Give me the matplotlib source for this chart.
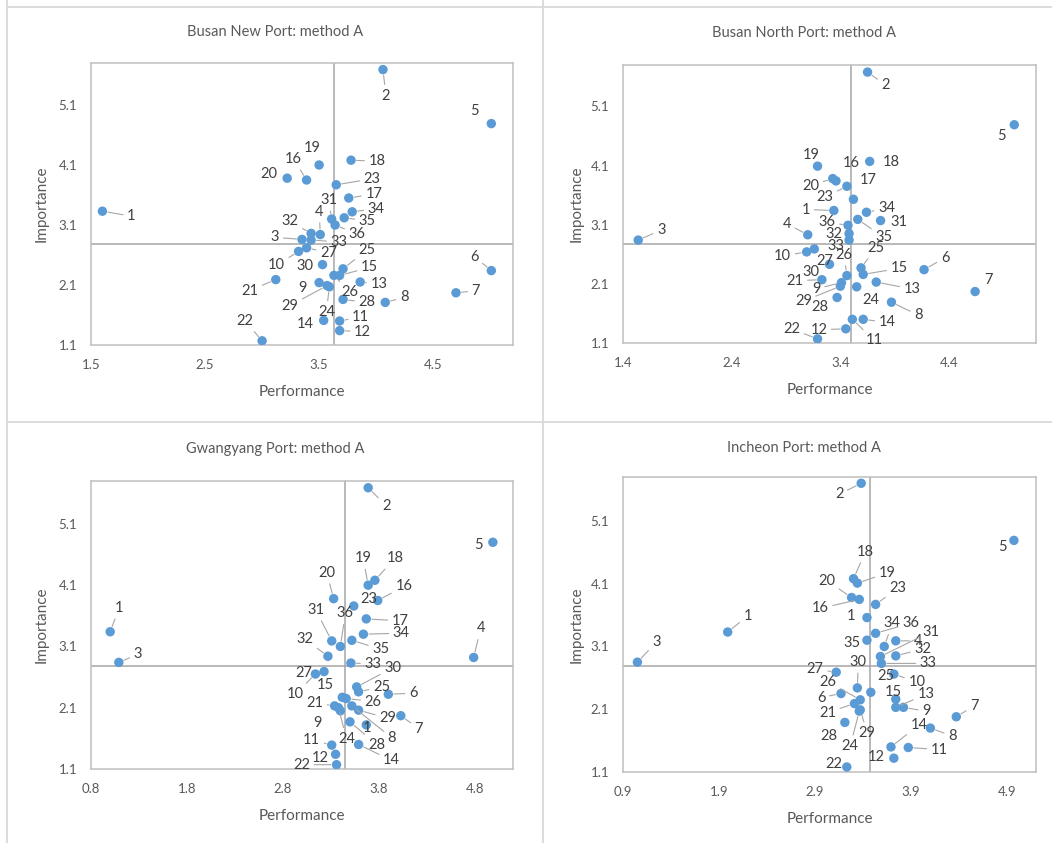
import matplotlib
matplotlib.use('Agg')
import matplotlib.pyplot as plt
from matplotlib.lines import Line2D

plt.rcParams['font.family'] = ['Lato', 'DejaVu Sans']

W, H = 1052, 843

# item numbers 1..36 (data labels)
items = [str(i) for i in range(1, 37)]

# Busan New Port
new_perf = [1.60, 4.06, 3.35, 3.51, 5.01, 5.01, 4.70, 4.08, 3.50, 3.32, 3.68, 3.68,
            3.86, 3.54, 3.68, 3.39, 3.76, 3.78, 3.50, 3.22, 3.12, 3.00, 3.65, 3.59,
            3.71, 3.63, 3.39, 3.71, 3.57, 3.53, 3.61, 3.43, 3.43, 3.79, 3.72, 3.64]
new_imp = [3.33, 5.69, 2.86, 2.94, 4.79, 2.34, 1.97, 1.81, 2.14, 2.66, 1.50, 1.34,
           2.15, 1.51, 2.26, 3.85, 3.55, 4.18, 4.10, 3.88, 2.19, 1.17, 3.77, 2.07,
           2.37, 2.26, 2.72, 1.86, 2.09, 2.44, 3.20, 2.96, 2.85, 3.32, 3.22, 3.10]
new_mean = (3.63, 2.79)

# Busan North Port
north_perf = [3.34, 3.65, 1.54, 3.10, 5.00, 4.17, 4.64, 3.87, 3.41, 3.09, 3.51, 3.45,
              3.73, 3.61, 3.61, 3.36, 3.52, 3.67, 3.19, 3.33, 3.23, 3.19, 3.46, 3.55,
              3.59, 3.46, 3.30, 3.37, 3.40, 3.16, 3.77, 3.48, 3.48, 3.64, 3.56, 3.47]
north_imp = [3.34, 5.68, 2.84, 2.93, 4.79, 2.34, 1.97, 1.79, 2.12, 2.64, 1.50, 1.34,
             2.13, 1.50, 2.26, 3.84, 3.53, 4.17, 4.09, 3.88, 2.17, 1.17, 3.75, 2.05,
             2.37, 2.24, 2.43, 1.87, 2.06, 2.69, 3.17, 2.95, 2.84, 3.31, 3.19, 3.09]
north_mean = (3.50, 2.77)

# Gwangyang Port
gy_perf = [1.00, 3.69, 1.09, 4.79, 4.99, 3.90, 4.03, 3.52, 3.40, 3.14, 3.31, 3.35,
           3.67, 3.59, 3.42, 3.79, 3.67, 3.76, 3.69, 3.33, 3.34, 3.36, 3.54, 3.38,
           3.59, 3.46, 3.23, 3.50, 3.59, 3.57, 3.31, 3.27, 3.51, 3.64, 3.52, 3.40]
gy_imp = [3.34, 5.69, 2.84, 2.92, 4.80, 2.32, 1.97, 2.13, 2.05, 2.65, 1.49, 1.34,
          1.82, 1.50, 2.27, 3.85, 3.55, 4.18, 4.10, 3.88, 2.13, 1.17, 3.76, 2.10,
          2.36, 2.25, 2.69, 1.87, 2.06, 2.44, 3.19, 2.94, 2.83, 3.30, 3.20, 3.10]
gy_mean = (3.45, 2.78)

# Incheon Port
ic_perf = [1.99, 3.38, 1.05, 3.74, 4.97, 3.17, 4.37, 4.10, 3.82, 3.72, 3.87, 3.72,
           3.74, 3.69, 3.74, 3.36, 3.44, 3.30, 3.34, 3.28, 3.31, 3.23, 3.53, 3.36,
           3.48, 3.37, 3.12, 3.21, 3.37, 3.34, 3.58, 3.74, 3.59, 3.62, 3.44, 3.53]
ic_imp = [3.33, 5.70, 2.85, 3.19, 4.79, 2.35, 1.98, 1.80, 2.13, 2.66, 1.49, 1.32,
          2.13, 1.50, 2.26, 3.85, 3.56, 4.18, 4.11, 3.88, 2.19, 1.18, 3.77, 2.07,
          2.37, 2.25, 2.69, 1.89, 2.09, 2.44, 2.94, 2.95, 2.83, 3.10, 3.20, 3.31]
ic_mean = (3.47, 2.79)

# label offsets in pixels (dx right, dy down), and labels drawn without leader line
new_off = {1: (29, 5), 2: (3, 26), 3: (-27, -2), 4: (-1, -23), 5: (-17, -13), 6: (-17, -14),
           7: (20, -2), 8: (19, -5), 9: (-17, 5), 10: (-22, 14), 11: (21, -4), 12: (23, 1),
           13: (19, 2), 14: (-18, 4), 15: (30, -8), 16: (-13, -21), 17: (25, -4), 18: (26, 1),
           19: (-7, -17), 20: (-18, -4), 21: (-26, 11), 22: (-17, -20), 23: (36, -6), 24: (-3, 25),
           25: (24, -19), 26: (16, 17), 27: (22, 5), 28: (24, 3), 29: (-37, 20), 30: (-18, 1),
           31: (-3, -19), 32: (-21, -12), 33: (28, 2), 34: (24, -3), 35: (23, 3), 36: (22, 9)}
new_plain = {5, 19, 20, 9, 14, 30}

north_off = {1: (-28, -1), 2: (18, 13), 3: (23, -10), 4: (-21, -11), 5: (-13, 11), 6: (21, -12),
             7: (13, -12), 8: (27, 13), 9: (-25, 6), 10: (-24, 4), 11: (22, 21), 12: (-27, 1),
             13: (36, 7), 14: (24, 3), 15: (36, -6), 16: (15, -18), 17: (15, -19), 18: (22, 1),
             19: (-6, -11), 20: (-22, 7), 21: (-27, 1), 22: (-26, -10), 23: (-22, 11), 24: (14, 13),
             25: (15, -20), 26: (-3, -21), 27: (-5, -3), 28: (-17, 10), 29: (-37, 15), 30: (-3, 23),
             31: (18, 1), 32: (-15, 0), 33: (-13, 6), 34: (20, -4), 35: (26, 18), 36: (-21, -3)}
north_plain = {5, 7, 19, 16, 17, 18, 31, 32, 33, 27, 24, 28, 30}

gy_off = {1: (9, -24), 2: (18, 18), 3: (19, -8), 4: (7, -29), 5: (-14, 3), 6: (25, -1),
          7: (18, 13), 8: (40, 32), 9: (-23, 12), 10: (-20, 20), 11: (-20, -5), 12: (-15, 4),
          13: (1, 3), 14: (33, 16), 15: (-17, -12), 16: (26, -14), 17: (34, 2), 18: (20, -22),
          19: (-5, -27), 20: (-7, -26), 21: (-20, -3), 22: (-35, 0), 23: (15, -7), 24: (8, 31),
          25: (23, -5), 26: (27, 3), 27: (-20, 1), 28: (27, 23), 29: (29, 8), 30: (36, -19),
          31: (-16, -31), 32: (-23, -17), 33: (22, 1), 34: (38, -1), 35: (29, 9), 36: (5, -33)}
gy_plain = {5, 23, 27, 15, 9, 12, 13}

ic_off = {1: (20, -16), 2: (-22, 11), 3: (19, -20), 4: (22, 0), 5: (-11, 7), 6: (-20, 4),
          7: (18, -11), 8: (22, 8), 9: (23, 4), 10: (23, 8), 11: (31, 2), 12: (-18, -1),
          13: (30, -13), 14: (28, -22), 15: (-2, -7), 16: (-39, 9), 17: (-16, -2), 18: (12, -27),
          19: (30, -10), 20: (-25, -17), 21: (-27, 9), 22: (-13, -3), 23: (22, -16), 24: (-9, 35),
          25: (15, -16), 26: (-32, -18), 27: (-21, -3), 28: (-16, 14), 29: (7, 23), 30: (1, -26),
          31: (51, -25), 32: (27, -7), 33: (47, 0), 34: (8, -23), 35: (-15, 3), 36: (35, -10)}
ic_plain = {5, 35, 15, 12, 22, 28, 25, 17}

# labels shown only partly in the source (second digit missing)
gy_text = {13: '1'}
ic_text = {17: '1'}

panels = [
    dict(title='Busan New Port: method A', perf=new_perf, imp=new_imp, mean=new_mean,
         box=(91, 63, 513, 345), xlim=(1.5, 5.2), xticks=[1.5, 2.5, 3.5, 4.5],
         off=new_off, plain=new_plain, text={}, title_xy=(275, 32), ylab_x=42),
    dict(title='Busan North Port: method A', perf=north_perf, imp=north_imp, mean=north_mean,
         box=(623, 65, 1036, 343), xlim=(1.4, 5.2), xticks=[1.4, 2.4, 3.4, 4.4],
         off=north_off, plain=north_plain, text={}, title_xy=(804, 33), ylab_x=577),
    dict(title='Gwangyang Port: method A', perf=gy_perf, imp=gy_imp, mean=gy_mean,
         box=(91, 481, 513, 769), xlim=(0.8, 5.2), xticks=[0.8, 1.8, 2.8, 3.8, 4.8],
         off=gy_off, plain=gy_plain, text=gy_text, title_xy=(275, 449), ylab_x=42),
    dict(title='Incheon Port: method A', perf=ic_perf, imp=ic_imp, mean=ic_mean,
         box=(623, 477, 1036, 772), xlim=(0.9, 5.2), xticks=[0.9, 1.9, 2.9, 3.9, 4.9],
         off=ic_off, plain=ic_plain, text=ic_text, title_xy=(804, 448), ylab_x=577),
]

yticks = [1.1, 2.1, 3.1, 4.1, 5.1]
blue = '#5B9BD5'
grey_txt = '#595959'
lab_txt = '#404040'

fig = plt.figure(figsize=(W / 100, H / 100), dpi=100)
fig.patch.set_facecolor('white')

# chart area borders
for xs, ys in [((7, 7), (0, H)), ((543, 543), (0, H)), ((7, W), (7, 7)), ((7, W), (422, 422))]:
    fig.add_artist(Line2D([x / W for x in xs], [1 - y / H for y in ys],
                          color='#D9D9D9', lw=1.3, transform=fig.transFigure))

for p in panels:
    left, top, right, bottom = p['box']
    ax = fig.add_axes([left / W, 1 - bottom / H, (right - left) / W, (bottom - top) / H])
    ax.set_xlim(*p['xlim'])
    ax.set_ylim(1.1, 5.8)
    ax.set_xticks(p['xticks'])
    ax.set_xticklabels(['%.1f' % v for v in p['xticks']])
    ax.set_yticks(yticks)
    ax.set_yticklabels(['%.1f' % v for v in yticks])
    ax.tick_params(length=0, pad=10, labelsize=9.5, colors=grey_txt)
    for s in ax.spines.values():
        s.set_color('#BFBFBF')
        s.set_linewidth(1.1)

    mx, my = p['mean']
    ax.axvline(mx, color='#A6A6A6', lw=1.1, zorder=1)
    ax.axhline(my, color='#A6A6A6', lw=1.1, zorder=1)

    ax.scatter(p['perf'], p['imp'], s=46, color=blue, edgecolors='none', zorder=3)

    for i, (x, y) in enumerate(zip(p['perf'], p['imp'])):
        n = i + 1
        dx, dy = p['off'][n]
        txt = p['text'].get(n, items[i])
        props = None
        if n not in p['plain']:
            props = dict(arrowstyle='-', color='#A6A6A6', lw=0.8, shrinkA=1, shrinkB=4)
        ax.annotate(txt, xy=(x, y), xytext=(dx, -dy), textcoords='offset pixels',
                    ha='center', va='center', fontsize=10.5, color=lab_txt,
                    arrowprops=props, zorder=4)

    tx, ty = p['title_xy']
    fig.text(tx / W, 1 - ty / H, p['title'], ha='center', va='center',
             fontsize=10.5, color=grey_txt)
    fig.text((left + right) / 2 / W, 1 - (bottom + 47) / H, 'Performance',
             ha='center', va='center', fontsize=11, color=grey_txt)
    fig.text(p['ylab_x'] / W, 1 - (top + bottom) / 2 / H, 'Importance', rotation=90,
             ha='center', va='center', fontsize=11, color=grey_txt)

fig.savefig('out.png', dpi=100, facecolor='white')
